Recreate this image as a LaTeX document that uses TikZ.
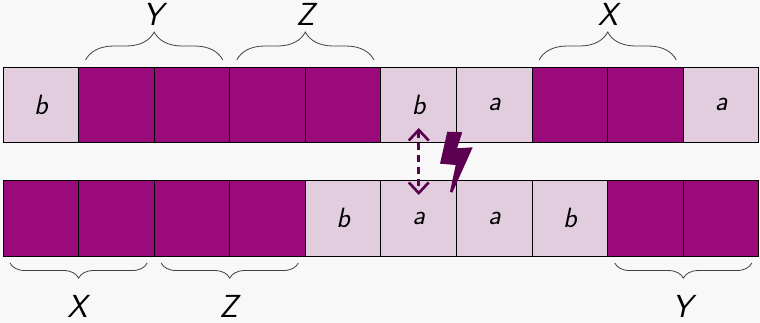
\documentclass[tikz,border=0pt]{standalone}
\usepackage{tikz}
\usetikzlibrary{arrows.meta,positioning,calc,decorations.pathreplacing}
\definecolor{pagebg}{HTML}{F8F8F8}
\definecolor{darkcell}{HTML}{9B0A7A}
\definecolor{lightcell}{HTML}{E2CDDE}
\definecolor{boltcol}{HTML}{5C0052}

\begin{document}
\begin{tikzpicture}[
  x=0.026455cm,y=0.026455cm,
  every node/.style={font=\fontsize{21}{23}\sffamily\itshape},
  full/.style={rectangle,draw,line width=0.7pt,outer sep=0pt,minimum size=2cm,fill=darkcell},
  letter/.style={rectangle,draw,line width=0.7pt,outer sep=0pt,minimum size=2cm,fill=lightcell},
  bracetop/.style={draw=black!75,line width=0.6pt,decorate,decoration={brace,amplitude=0.74cm}},
  bracelow/.style={draw=black!75,line width=0.6pt,decorate,decoration={brace,amplitude=0.4cm}},
  seglabel/.style={inner sep=0pt,font=\fontsize{24}{26}\sffamily\itshape}
]
\fill[pagebg] (0,0) rectangle (760,-323);
\useasboundingbox (0,0) rectangle (760,-323);
% upper row
\node[letter,anchor=north west] (t1) at (3,-67) {b};
\node[full,right=0pt of t1] (t2) {};
\node[full,right=0pt of t2] (t3) {};
\node[full,right=0pt of t3] (t4) {};
\node[full,right=0pt of t4] (t5) {};
\node[letter,right=0pt of t5] (t6) {b};
\node[letter,right=0pt of t6] (t7) {a};
\node[full,right=0pt of t7] (t8) {};
\node[full,right=0pt of t8] (t9) {};
\node[letter,right=0pt of t9] (t10) {a};
% lower row
\node[full,below=1cm of t1] (b1) {};
\node[full,right=0pt of b1] (b2) {};
\node[full,right=0pt of b2] (b3) {};
\node[full,right=0pt of b3] (b4) {};
\node[letter,right=0pt of b4] (b5) {b};
\node[letter,right=0pt of b5] (b6) {a};
\node[letter,right=0pt of b6] (b7) {a};
\node[letter,right=0pt of b7] (b8) {b};
\node[full,right=0pt of b8] (b9) {};
\node[full,right=0pt of b9] (b10) {};
% braces
\draw[bracetop] ($(t2.north west)+(7,7)$) -- node[seglabel,yshift=34pt,xshift=-1pt] (ly) {Y} ($(t3.north east)+(-7,7)$);
\draw[bracetop] ($(t4.north west)+(7,7)$) -- node[seglabel,yshift=34pt] (lz) {Z} ($(t5.north east)+(-7,7)$);
\draw[bracetop] ($(t8.north west)+(7,7)$) -- node[seglabel,yshift=34pt] (lx) {X} ($(t9.north east)+(-7,7)$);
\draw[bracelow] ($(b2.south east)+(-7,-7)$) -- node[seglabel,yshift=-33pt,xshift=-1pt] (mx) {X} ($(b1.south west)+(7,-7)$);
\draw[bracelow] ($(b4.south east)+(-7,-7)$) -- node[seglabel,yshift=-33pt,xshift=-1pt] (mz) {Z} ($(b3.south west)+(7,-7)$);
\draw[bracelow] ($(b10.south east)+(-7,-7)$) -- node[seglabel,yshift=-33pt,xshift=-1pt] (my) {Y} ($(b9.south west)+(7,-7)$);
% swap arrow and bolt
\draw[{Straight Barb[length=8pt,width=15pt]}-{Straight Barb[length=8pt,width=15pt]},boltcol,line width=2pt,dash pattern=on 5pt off 4pt,shorten <=-11pt,shorten >=-11pt] (t6.south) -- (b6.north);
\fill[boltcol] (447.3,-131.7) -- (462.3,-132.3) -- (457,-148.3) -- (472.7,-147.3) -- (452.3,-192.7) -- (450,-191.7) -- (455.7,-165) -- (440,-163.7) -- cycle;
\end{tikzpicture}
\end{document}
